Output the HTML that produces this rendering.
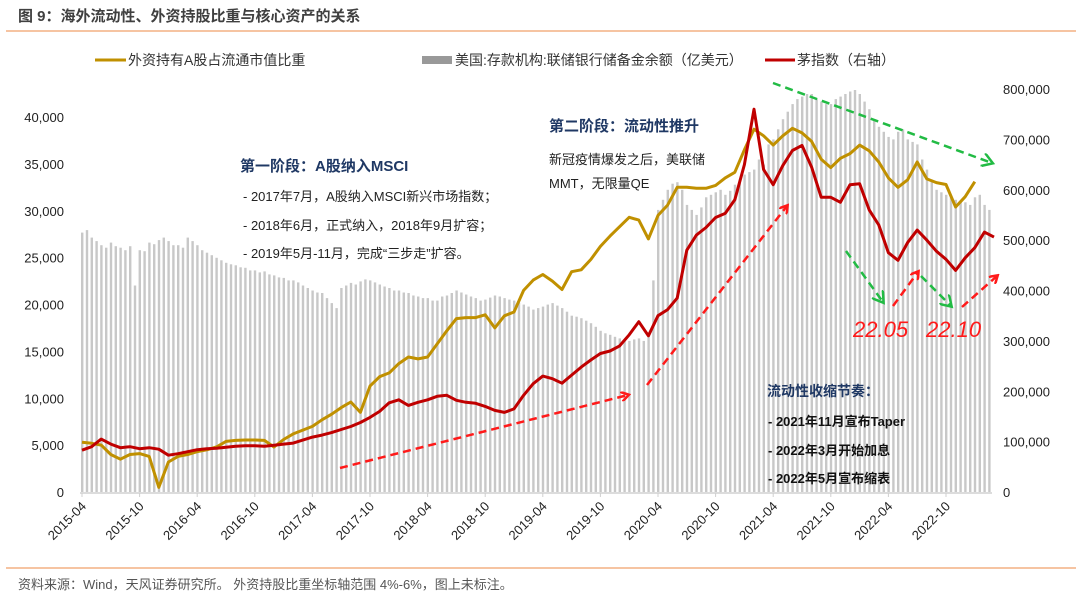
<!DOCTYPE html>
<html><head><meta charset="utf-8">
<style>
html,body{margin:0;padding:0;background:#fff;}
svg{display:block;font-family:"Liberation Sans","Noto Sans CJK SC",sans-serif;}
</style></head>
<body>
<svg id="chart" width="1080" height="595" viewBox="0 0 1080 595" xmlns="http://www.w3.org/2000/svg">
<defs>
<marker id="ahR" markerWidth="10" markerHeight="10" refX="7" refY="5" orient="auto" markerUnits="userSpaceOnUse"><path d="M0,0 L8,5 L0,10" fill="none" stroke="#ff1a1a" stroke-width="2.5"/></marker>
<marker id="ahG" markerWidth="14" markerHeight="14" refX="10" refY="7" orient="auto" markerUnits="userSpaceOnUse"><path d="M0,0 L11,7 L0,14" fill="none" stroke="#22bb44" stroke-width="2.5"/></marker>
</defs>
<text x="18" y="21" font-size="15" font-weight="bold" fill="#404040">图 9：海外流动性、外资持股比重与核心资产的关系</text>
<line x1="6" y1="31" x2="1076" y2="31" stroke="#f4b183" stroke-width="1.5"/>
<g font-size="14" fill="#333">
<g><line x1="95" y1="60" x2="126" y2="60" stroke="#c09000" stroke-width="3"/><text x="128" y="65">外资持有A股占流通市值比重</text></g>
<g><rect x="422" y="56" width="30" height="8" fill="#999"/><text x="455" y="65">美国:存款机构:联储银行储备金余额（亿美元）</text></g>
<g><line x1="765" y1="60" x2="795" y2="60" stroke="#c00000" stroke-width="3"/><text x="797" y="65">茅指数（右轴）</text></g>
</g>
<g id="bars"></g>
<g id="axes"></g>
<g id="lines"></g>
<g>
<text x="240" y="171" font-size="15" font-weight="bold" fill="#1f3864">第一阶段：A股纳入MSCI</text>
<text x="243" y="201" font-size="13" fill="#222">- 2017年7月，A股纳入MSCI新兴市场指数；</text>
<text x="243" y="230" font-size="13" fill="#222">- 2018年6月，正式纳入，2018年9月扩容；</text>
<text x="243" y="258" font-size="13" fill="#222">- 2019年5月-11月，完成“三步走”扩容。</text>
<text x="549" y="131" font-size="15" font-weight="bold" fill="#1f3864">第二阶段：流动性推升</text>
<text x="549" y="164" font-size="13" fill="#222">新冠疫情爆发之后，美联储</text>
<text x="549" y="188" font-size="13" fill="#222">MMT，无限量QE</text>
<text x="767" y="396" font-size="14" font-weight="bold" fill="#1f3864">流动性收缩节奏：</text>
<text x="768" y="426" font-size="13" font-weight="bold" fill="#111">- 2021年11月宣布Taper</text>
<text x="768" y="455" font-size="13" font-weight="bold" fill="#111">- 2022年3月开始加息</text>
<text x="768" y="483" font-size="13" font-weight="bold" fill="#111">- 2022年5月宣布缩表</text>
<text x="853" y="337" font-size="22" font-style="italic" fill="#ff1a1a">22.05</text>
<text x="926" y="337" font-size="22" font-style="italic" fill="#ff1a1a">22.10</text>
<g fill="none" stroke-dasharray="8,5" stroke-width="2.5">
<line x1="340" y1="468" x2="628" y2="395" stroke="#ff1a1a" marker-end="url(#ahR)"/>
<line x1="647" y1="385" x2="787" y2="206" stroke="#ff1a1a" marker-end="url(#ahR)"/>
<line x1="893" y1="306" x2="918" y2="272" stroke="#ff1a1a" marker-end="url(#ahR)"/>
<line x1="962" y1="307" x2="997" y2="276" stroke="#ff1a1a" marker-end="url(#ahR)"/>
<line x1="773" y1="83" x2="992" y2="163" stroke="#22bb44" marker-end="url(#ahG)"/>
<line x1="846" y1="251" x2="883" y2="302" stroke="#22bb44" marker-end="url(#ahG)"/>
<line x1="921" y1="276" x2="951" y2="306" stroke="#22bb44" marker-end="url(#ahG)"/>
</g>
</g>
<line x1="6" y1="568" x2="1076" y2="568" stroke="#f4b183" stroke-width="1.5"/>
<text x="18" y="589" font-size="13" fill="#555">资料来源：Wind，天风证券研究所。 外资持股比重坐标轴范围 4%-6%，图上未标注。</text>
</svg>
<script>
const leftTicks=[0,5000,10000,15000,20000,25000,30000,35000,40000];
const rightTicks=[0,100000,200000,300000,400000,500000,600000,700000,800000];
const xTickLabels=["2015-04","2015-10","2016-04","2016-10","2017-04","2017-10","2018-04","2018-10","2019-04","2019-10","2020-04","2020-10","2021-04","2021-10","2022-04","2022-10"];
// reserves, thousand 亿美元 units (x1000), two readings per month from 2015-04
const reserves=[515,520,505,498,490,485,495,488,485,480,488,410,480,478,495,492,500,505,498,490,490,485,505,498,490,480,475,470,465,460,455,452,450,446,445,440,440,436,438,432,430,426,425,420,420,416,410,405,400,396,395,385,375,365,405,410,415,412,418,422,420,416,412,408,405,400,400,396,395,390,388,385,385,380,380,388,390,395,400,396,392,388,385,380,382,386,390,388,385,382,380,376,372,368,362,365,368,372,375,370,365,358,350,348,345,340,335,328,320,315,312,308,305,302,300,303,305,300,310,420,560,580,600,612,615,600,570,560,550,565,585,590,595,600,590,598,610,620,630,635,640,660,650,690,700,720,740,755,770,780,785,790,790,780,775,770,770,780,785,790,795,798,790,775,760,740,725,715,705,700,715,720,700,695,690,660,640,620,600,595,590,585,580,575,575,570,585,590,570,560];
// Mao index (right axis, thousands), monthly from 2015-04
const maoIndex=[83,90,105,95,88,90,86,88,85,73,76,80,84,86,87,89,91,92,92,91,93,95,97,103,109,113,118,124,130,138,148,160,177,183,172,178,183,190,192,182,178,176,170,162,158,165,192,215,230,225,216,232,248,262,275,280,290,312,338,310,350,362,385,480,510,525,545,553,580,650,760,640,610,648,678,688,645,585,585,575,610,612,560,530,475,460,495,520,500,478,462,440,465,485,516,506];
// foreign holding share, plotted on left-axis scale, monthly from 2015-04
const foreignShare=[5300,5200,5000,4000,3500,4000,4100,3800,500,3200,3800,4000,4300,4500,4800,5400,5500,5550,5550,5500,4800,5600,6200,6600,7000,7700,8300,9000,9600,8500,11300,12300,12700,13700,14400,14200,14400,15800,17200,18500,18600,18600,18900,17500,18800,19200,21500,22600,23200,22500,21600,23500,23700,24800,26200,27300,28300,29300,29000,27000,29500,30600,32500,32500,32400,32400,32700,33500,34100,36500,38700,38000,37000,38000,38800,38300,37400,35500,34600,35600,36100,37000,36400,35200,33500,32500,33300,35200,33400,33000,32800,30400,31500,33100];

const NS="http://www.w3.org/2000/svg";
const X0=82, MW=9.6, YB=492;
function xM(m){return X0+m*MW;}
function yL(v){return YB-v*(375/40000);}
function yR(v){return YB-v*(403/800000);}
function mk(t,attrs,parent){const e=document.createElementNS(NS,t);for(const k in attrs)e.setAttribute(k,attrs[k]);parent.appendChild(e);return e;}

const bars=document.getElementById('bars');
reserves.forEach((v,i)=>{
  const x=xM(i/2), y=yR(v*1000);
  const r=mk('rect',{x:(x-1).toFixed(1),y:y.toFixed(1),width:2.4,height:(YB-y).toFixed(1),fill:'#c8c8c8'},bars);
  
  
});

const axes=document.getElementById('axes');
const base=mk('line',{x1:80,y1:YB+1,x2:992,y2:YB+1,stroke:'#d0d0d0','stroke-width':1.5},axes);


leftTicks.forEach(v=>{
  const t=mk('text',{x:64,y:yL(v)+5,'font-size':13,'text-anchor':'end',fill:'#222'},axes);
  t.textContent=v.toLocaleString('en-US');
  
  
});
rightTicks.forEach(v=>{
  const t=mk('text',{x:1003,y:yR(v)+5,'font-size':13,fill:'#222'},axes);
  t.textContent=v.toLocaleString('en-US');
  
  
});
xTickLabels.forEach((s,i)=>{
  const x=xM(i*6);
  const tk=mk('line',{x1:x,y1:YB+1,x2:x,y2:YB+5,stroke:'#d0d0d0'},axes);
  
  
  const t=mk('text',{x:x+5,y:YB+15,'font-size':13,'text-anchor':'end',fill:'#222',transform:`rotate(-45 ${x+5} ${YB+15})`},axes);
  t.textContent=s;
  
  
});

const lines=document.getElementById('lines');
const gp=mk('path',{d:foreignShare.map((v,i)=>(i?'L':'M')+xM(i).toFixed(1)+','+yL(v).toFixed(1)).join(''),fill:'none',stroke:'#c09000','stroke-width':3,'stroke-linejoin':'round'},lines);


const rp=mk('path',{d:maoIndex.map((v,i)=>(i?'L':'M')+xM(i).toFixed(1)+','+yR(v*1000).toFixed(1)).join(''),fill:'none',stroke:'#c00000','stroke-width':3,'stroke-linejoin':'round'},lines);


</script>
</body></html>
